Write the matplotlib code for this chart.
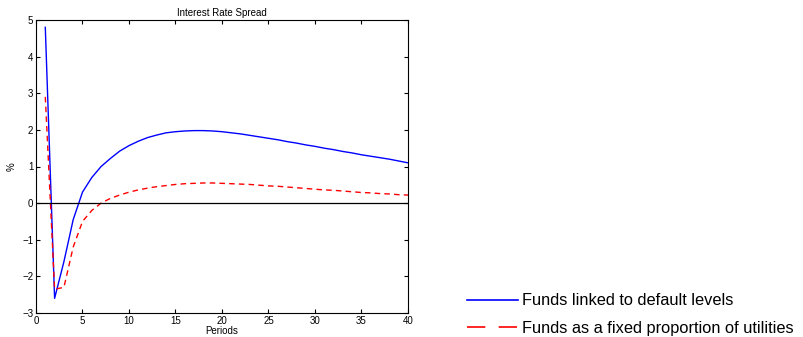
import numpy as np
import matplotlib
matplotlib.use("Agg")
import matplotlib.pyplot as plt
from matplotlib.lines import Line2D

plt.rcParams['font.family'] = ['Liberation Sans', 'DejaVu Sans']

# impulse responses, periods 1..40
periods = np.arange(1, 41)
linked = [4.80, -2.60, -1.60, -0.45, 0.30, 0.70, 1.00, 1.22, 1.42, 1.57,
          1.69, 1.79, 1.86, 1.92, 1.95, 1.97, 1.98, 1.98, 1.97, 1.95,
          1.92, 1.89, 1.85, 1.81, 1.77, 1.73, 1.68, 1.64, 1.59, 1.55,
          1.50, 1.46, 1.41, 1.37, 1.32, 1.28, 1.24, 1.20, 1.15, 1.10]
fixed = [2.90, -2.35, -2.30, -1.20, -0.50, -0.20, 0.00, 0.13, 0.22, 0.30,
         0.36, 0.41, 0.45, 0.48, 0.51, 0.53, 0.54, 0.55, 0.55, 0.54,
         0.53, 0.52, 0.51, 0.49, 0.47, 0.46, 0.44, 0.42, 0.40, 0.38,
         0.36, 0.35, 0.33, 0.31, 0.29, 0.28, 0.26, 0.25, 0.23, 0.22]
labels = ["Funds linked to default levels",
          "Funds as a fixed proportion of utilities"]

fig = plt.figure(figsize=(8.04, 3.37), dpi=100)
ax = fig.add_axes([36/804, 1 - 313/337, (408 - 36)/804, (313 - 20)/337])

ax.plot(periods, linked, color='blue', lw=1.0)
ax.plot(periods, fixed, color='red', lw=1.0, ls=(0, (4, 3)))
ax.axhline(0, color='black', lw=0.9)

ax.set_xlim(0, 40)
ax.set_ylim(-3, 5)
ax.set_xticks(range(0, 41, 5))
ax.set_yticks(range(-3, 6))
ax.tick_params(direction='in', top=True, right=True, labelsize=7, length=3, pad=2)
ax.set_title("Interest Rate Spread", fontsize=7, pad=3)
ax.set_xlabel("Periods", fontsize=7, labelpad=0)
ax.set_ylabel("%", fontsize=7, labelpad=4)
for s in ax.spines.values():
    s.set_linewidth(0.8)

# legend sits outside the axes, bottom right
handles = [Line2D([], [], color='blue', lw=1.2),
           Line2D([], [], color='red', lw=1.2, ls=(0, (11, 8)))]
fig.legend(handles, labels, loc='lower left', bbox_to_anchor=(452/804, -0.04),
           frameon=False, handlelength=3.1, handletextpad=0.3,
           labelspacing=0.75, prop={'size': 11.8})

fig.savefig("out.png", dpi=100)
